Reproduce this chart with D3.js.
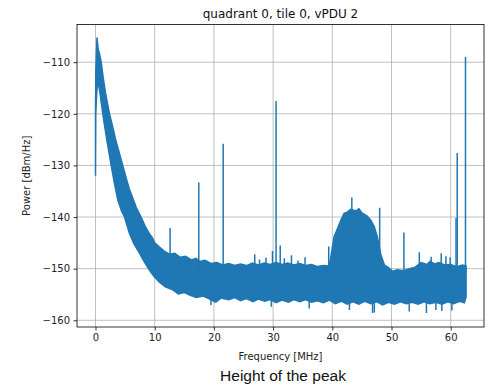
<!DOCTYPE html>
<html>
<head>
<meta charset="utf-8">
<script src="https://cdn.jsdelivr.net/npm/d3@7"></script>
<style>
  html, body { margin: 0; padding: 0; background: #fff; }
  svg { display: block; }
</style>
</head>
<body>
<svg id="chart" width="491" height="386"></svg>
<script>
// x ticks (MHz) and y ticks (dBm/Hz)
const xTicks = [0, 10, 20, 30, 40, 50, 60];
const yTicks = [-160, -150, -140, -130, -120, -110];

// upper edge of the noise band, [freq MHz, power dBm/Hz]
const upperEdge = [
  [0, -120], [0.05, -112], [0.25, -105.2], [0.45, -107.5], [0.7, -108.5], [0.96, -110],
  [1.3, -113], [1.7, -116], [2.36, -120], [2.9, -122.5], [3.4, -125], [4.0, -127.5],
  [4.6, -130], [5.2, -132.5], [5.7, -134.5], [6.2, -136], [6.9, -138.2], [7.7, -140],
  [8.4, -141.8], [9.1, -143.2], [9.6, -144], [10.0, -145], [10.8, -145.8], [11.6, -146.6],
  [12.5, -147.2], [13.4, -147.0], [14.3, -147.8], [15.2, -147.6], [16.2, -148.3], [17.0, -148.0],
  [17.6, -148.6], [18.5, -148.4], [19.5, -149], [20.5, -148.8], [21.5, -149.3], [22.5, -149],
  [23.5, -149.4], [24.5, -149.1], [25.5, -149.4], [26.5, -148.9], [27.5, -149.3], [28.5, -148.9],
  [29.5, -149.2], [30.5, -148.8], [31.5, -149.2], [32.5, -148.9], [33.5, -149.3], [34.5, -149],
  [35.5, -149.4], [36.5, -149.2], [37.5, -149.6], [38.5, -149.4], [39.5, -149.5], [40.0, -146],
  [40.3, -143.8], [40.9, -142.2], [41.5, -140.5], [42.0, -139.3], [42.6, -139], [43.1, -138.5],
  [44.0, -138.8], [44.5, -138.4], [45.0, -139.2], [45.9, -139.8], [46.5, -140.6], [47.1, -141.9],
  [47.6, -143.8], [48.2, -147.3], [48.8, -149.3], [49.5, -149.8], [50.2, -150.5], [51, -150.2],
  [52, -150.4], [53, -150], [54, -149.7], [55, -148.8], [56, -149.2], [56.5, -148.6],
  [57.3, -149.1], [58, -148.8], [59, -149.3], [60, -149.2], [61, -149.6], [62.0, -149.3],
  [62.6, -149.5]
];

// lower edge of the noise band
const lowerEdge = [
  [0, -132], [0.05, -120], [0.2, -116], [0.4, -113.5], [0.7, -115.5], [1.23, -120],
  [1.9, -125], [2.65, -130], [3.2, -133.5], [3.77, -136.7], [4.4, -138.8], [4.9, -140],
  [5.74, -143.2], [6.5, -145.2], [7.43, -147], [8.2, -148.6], [9.12, -150.3], [9.9, -151.5],
  [10.8, -152.6], [11.8, -153.5], [13.06, -154.1], [14.0, -154.9], [15.0, -154.6], [15.9, -155.1],
  [17, -155.6], [18.2, -155.3], [19.3, -155.9], [20.3, -156.5], [21.2, -155.7], [22.5, -156],
  [23.5, -155.6], [24.5, -156.2], [25.5, -155.8], [26.6, -156.4], [27.5, -155.9], [28.6, -156.3],
  [29.5, -156.0], [30.5, -156.6], [31.5, -156.1], [32.6, -156.5], [33.5, -156], [34.5, -156.4],
  [35.5, -156.0], [36.5, -156.5], [37.5, -156.2], [38.5, -156.6], [39.5, -156.1], [40.5, -156.8],
  [41.5, -156.3], [42.5, -156.9], [43.5, -156.4], [44.5, -156.9], [45.5, -156.3], [46.5, -156.8],
  [47.5, -156.4], [48.5, -157], [49.5, -156.5], [50.5, -156.9], [51.5, -156.4], [52.5, -156.8],
  [53.5, -156.5], [54.5, -156.9], [55.5, -156.4], [56.5, -156.8], [57.5, -156.5], [58.5, -156.9],
  [59.5, -156.4], [60.5, -156.8], [61.5, -156.3], [62.3, -156.6], [62.6, -155.5]
];

// narrow tones sticking out above the band: [freq, peak]
const spikes = [
  [12.6, -142.1], [17.45, -133.3], [21.57, -125.8], [26.9, -147.2], [27.7, -148.2],
  [28.8, -147.9], [29.9, -146.6], [30.5, -117.5], [31.2, -145.5], [31.9, -148],
  [33.1, -147.4], [34.2, -148.4], [35.4, -147.8], [39.4, -145.7], [43.3, -136.2],
  [45.2, -139.6], [48.0, -138.2], [52.1, -143.0], [54.7, -146.8], [56.7, -147.7],
  [58.4, -147.0], [59.2, -147.6], [59.9, -147.8], [60.9, -140.2], [61.1, -127.6],
  [62.5, -109.0]
];

// short dips below the band: [freq, bottom]
const dips = [
  [19.5, -157.1], [29.7, -157.4], [36.1, -157.7], [42.9, -158.0], [46.8, -158.6],
  [47.1, -158.5], [53.0, -158.3], [55.9, -158.6], [57.5, -158.0], [58.5, -158.2],
  [60.2, -158.1]
];

const svg = d3.select("#chart");
const W = 491, H = 386;
const m = {left: 77, right: 7, top: 24.5, bottom: 59};
const color = "#1f77b4";

const x = d3.scaleLinear().domain([-3.125, 65.625]).range([m.left, W - m.right]);
const y = d3.scaleLinear().domain([-161.3, -102.7]).range([H - m.bottom, m.top]);

svg.append("defs").append("clipPath").attr("id", "plotArea")
  .append("rect")
  .attr("x", m.left).attr("y", m.top)
  .attr("width", W - m.left - m.right).attr("height", H - m.top - m.bottom);

// grid
const grid = svg.append("g");
grid.selectAll(".gx").data(xTicks).enter().append("line")
  .attr("x1", d => x(d)).attr("x2", d => x(d))
  .attr("y1", m.top).attr("y2", H - m.bottom)
  .attr("stroke", "#b0b0b0").attr("stroke-width", 0.8);
grid.selectAll(".gy").data(yTicks).enter().append("line")
  .attr("x1", m.left).attr("x2", W - m.right)
  .attr("y1", d => y(d)).attr("y2", d => y(d))
  .attr("stroke", "#b0b0b0").attr("stroke-width", 0.8);

// spectrum
const plot = svg.append("g").attr("clip-path", "url(#plotArea)");
const band = upperEdge.concat(lowerEdge.slice().reverse());
const line = d3.line().x(d => x(d[0])).y(d => y(d[1]));
plot.append("path")
  .attr("d", line(band) + "Z")
  .attr("fill", color)
  .attr("stroke", color)
  .attr("stroke-width", 1.5)
  .attr("stroke-linejoin", "miter");

plot.selectAll(".spike").data(spikes).enter().append("line")
  .attr("x1", d => x(d[0])).attr("x2", d => x(d[0]))
  .attr("y1", d => y(d[1])).attr("y2", y(-151))
  .attr("stroke", color).attr("stroke-width", 1.5);

plot.selectAll(".dip").data(dips).enter().append("line")
  .attr("x1", d => x(d[0])).attr("x2", d => x(d[0]))
  .attr("y1", d => y(d[1])).attr("y2", y(-155))
  .attr("stroke", color).attr("stroke-width", 1.5);

// axes
const xAxis = d3.axisBottom(x).tickValues(xTicks).tickSize(3.5).tickPadding(3.5)
  .tickFormat(d => String(d));
const yAxis = d3.axisLeft(y).tickValues(yTicks).tickSize(3.5).tickPadding(3.5)
  .tickFormat(d => (d < 0 ? "\u2212" + Math.abs(d) : String(d)));

const gx = svg.append("g").attr("transform", `translate(0,${H - m.bottom})`).call(xAxis);
const gy = svg.append("g").attr("transform", `translate(${m.left},0)`).call(yAxis);
[gx, gy].forEach(g => {
  g.select(".domain").remove();
  g.selectAll(".tick line").attr("stroke", "#000").attr("stroke-width", 0.8);
  g.selectAll(".tick text").attr("font-family", "DejaVu Sans").attr("font-size", 10).attr("fill", "#222");
});

// frame
svg.append("rect")
  .attr("x", m.left).attr("y", m.top)
  .attr("width", W - m.left - m.right).attr("height", H - m.top - m.bottom)
  .attr("fill", "none").attr("stroke", "#000").attr("stroke-width", 0.8);

// labels
svg.append("text")
  .attr("x", (m.left + W - m.right) / 2).attr("y", 18)
  .attr("text-anchor", "middle")
  .attr("font-family", "DejaVu Sans").attr("font-size", 12).attr("fill", "#111")
  .text("quadrant 0, tile 0, vPDU 2");

svg.append("text")
  .attr("x", (m.left + W - m.right) / 2).attr("y", 359.5)
  .attr("text-anchor", "middle")
  .attr("font-family", "DejaVu Sans").attr("font-size", 10).attr("fill", "#222")
  .text("Frequency [MHz]");

svg.append("text")
  .attr("transform", `translate(30,${(m.top + H - m.bottom) / 2}) rotate(-90)`)
  .attr("text-anchor", "middle")
  .attr("font-family", "DejaVu Sans").attr("font-size", 10).attr("fill", "#222")
  .text("Power [dBm/Hz]");

svg.append("text")
  .attr("x", 283).attr("y", 381)
  .attr("text-anchor", "middle")
  .attr("font-family", "Liberation Sans, Arial, sans-serif").attr("font-size", 15.5).attr("fill", "#111")
  .text("Height of the peak");
</script>
</body>
</html>
